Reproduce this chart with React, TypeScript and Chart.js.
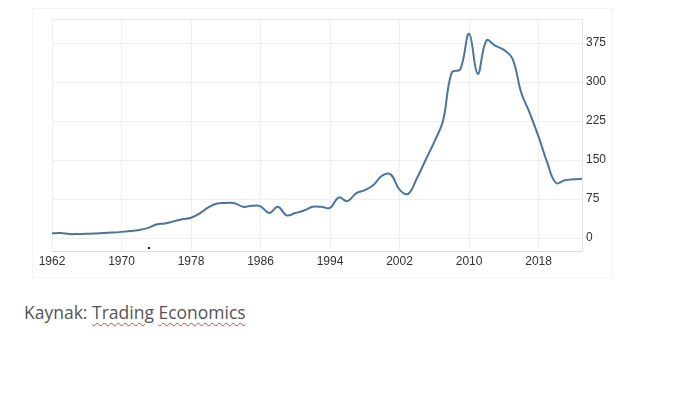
import React, { useEffect, useRef } from "react";
import { Chart, registerables } from "chart.js";

Chart.register(...registerables);

const years: string[] = [
  "1962","1963","1964","1965","1966","1967","1968","1969","1970","1971",
  "1972","1973","1974","1975","1976","1977","1978","1979","1980","1981",
  "1982","1983","1984","1985","1986","1987","1988","1989","1990","1991",
  "1992","1993","1994","1995","1996","1997","1998","1999","2000","2001",
  "2002","2003","2004","2005","2006","2007","2008","2009","2010","2011",
  "2012","2013","2014","2015","2016","2017","2018","2019","2020","2021",
  "2022","2023",
];

const values: number[] = [
  9, 9.5, 7.5, 7.7, 8, 8.8, 9.8, 10.5, 11.8, 13.5,
  15.5, 19, 26, 28, 32, 36, 39, 47.5, 59, 66.5,
  67.5, 67, 60, 62, 61, 48, 60, 43.5, 48, 53,
  60, 60, 58, 78, 71, 86, 92, 102, 120, 122,
  93, 85, 115, 150, 185, 225, 318, 325, 393, 316,
  380, 370, 362, 345, 280, 240, 195, 145, 106, 111,
  113, 114,
];

const yTicks: number[] = [0, 75, 150, 225, 300, 375];
const xTickEvery = 8;

export default function App() {
  const ref = useRef<HTMLCanvasElement | null>(null);

  useEffect(() => {
    if (!ref.current) return;
    const frameLine = {
      id: "frameLine",
      afterDraw(chart: any) {
        const { ctx, chartArea } = chart;
        ctx.save();
        ctx.strokeStyle = "#e6e6e6";
        ctx.lineWidth = 1;
        ctx.beginPath();
        ctx.moveTo(chartArea.left, chartArea.top + 0.5);
        ctx.lineTo(chartArea.right, chartArea.top + 0.5);
        ctx.stroke();
        ctx.restore();
      },
    };
    const chart = new Chart(ref.current, {
      type: "line",
      data: {
        labels: years,
        datasets: [
          {
            data: values,
            borderColor: "#4675a6",
            borderWidth: 2,
            pointRadius: 0,
            tension: 0.4,
            fill: false,
          },
        ],
      },
      options: {
        animation: false,
        responsive: true,
        maintainAspectRatio: false,
        layout: { padding: { left: 20, top: 9, right: 0, bottom: 0 } },
        plugins: { legend: { display: false }, tooltip: { enabled: false } },
        scales: {
          x: {
            type: "category",
            grid: { color: "#efefef", drawTicks: false },
            border: { display: true, color: "#dcdcdc" },
            ticks: {
              autoSkip: false,
              maxRotation: 0,
              padding: 3,
              color: "#333",
              font: { family: "'Liberation Sans', Arial, sans-serif", size: 12 },
              callback: (_v: any, i: number) =>
                i % xTickEvery === 0 ? years[i] : null,
            },
            afterFit: (s: any) => {
              s.height = 27;
            },
          },
          y: {
            position: "right",
            min: -25,
            max: 421,
            grid: { color: "#efefef", drawTicks: false },
            border: { display: true, color: "#e6e6e6" },
            afterBuildTicks: (s: any) => {
              s.ticks = yTicks.map((v) => ({ value: v }));
            },
            ticks: {
              padding: 4,
              color: "#333",
              font: { family: "'Liberation Sans', Arial, sans-serif", size: 12 },
            },
            afterFit: (s: any) => {
              s.width = 31;
            },
          },
        },
      },
      plugins: [frameLine],
    });
    return () => chart.destroy();
  }, []);

  const squiggle = {
    textDecoration: "underline wavy #e04040",
    textDecorationThickness: 1,
    textUnderlineOffset: 3,
  } as React.CSSProperties;

  return (
    <div style={{ position: "absolute", left: 0, top: 0, width: 674, height: 416, background: "#fff" }}>
      <div
        style={{
          position: "absolute",
          left: 32,
          top: 8,
          width: 581,
          height: 270,
          boxSizing: "border-box",
          border: "1px solid #f4f4f4",
        }}
      />
      <div style={{ position: "absolute", left: 32, top: 8, width: 581, height: 270 }}>
        <canvas ref={ref} />
      </div>
      <div
        style={{
          position: "absolute",
          left: 148,
          top: 247,
          width: 2,
          height: 2,
          background: "#222",
        }}
      />
      <div
        style={{
          position: "absolute",
          left: 24,
          top: 300,
          fontFamily: "'Open Sans', sans-serif",
          fontSize: 17.5,
          color: "#555",
          whiteSpace: "nowrap",
        }}
      >
        Kaynak:{" "}
        <span style={squiggle}>Trading</span>{" "}
        <span style={squiggle}>Economics</span>
      </div>
    </div>
  );
}
